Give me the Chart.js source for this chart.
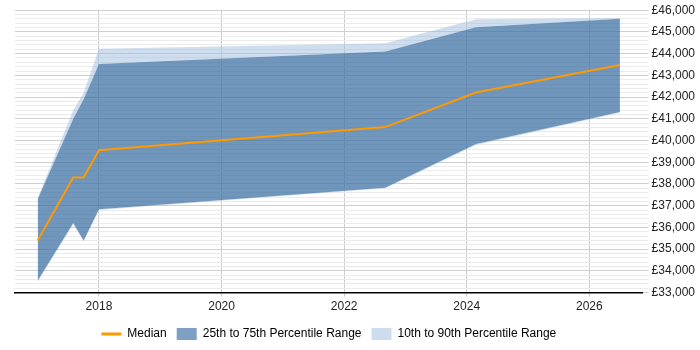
<!DOCTYPE html>
<html>
<head>
<meta charset="utf-8">
<script src="https://cdn.jsdelivr.net/npm/chart.js@4/dist/chart.umd.min.js"></script>
<style>
  html, body { margin: 0; padding: 0; background: #fff; }
  #wrap { width: 700px; height: 350px; }
</style>
</head>
<body>
<div id="wrap"><canvas id="myChart"></canvas></div>
<script>
// DATA
const years  = [2017.0, 2017.58, 2017.75, 2018.0, 2022.67, 2024.15, 2026.5];
const median = [35400, 38300, 38300, 39550, 40620, 42210, 43480];
const p10    = [33500, 36150, 35350, 36800, 37800, 39800, 41280];
const p25    = [33540, 36200, 35400, 36840, 37830, 39840, 41310];
const p75    = [37300, 41000, 41900, 43520, 44100, 45220, 45610];
const p90    = [37350, 41400, 42200, 44220, 44480, 45580, 45640];
const xTicks = [2018, 2020, 2022, 2024, 2026];

const pts = arr => years.map((x, i) => ({ x: x, y: arr[i] }));

const DARK = "rgba(65, 115, 165, 0.75)";
const LIGHT = "rgba(160, 190, 222, 0.5)";
const ORANGE = "rgb(255, 153, 0)";

// centre the legend under the plot area, not the whole canvas
const legendUnderPlot = {
    id: "legendUnderPlot",
    afterLayout(chart) {
        const l = chart.legend;
        l.left = chart.chartArea.left;
        l.right = chart.chartArea.right;
        l.width = l.right - l.left;
        l.top += 1;
        l.bottom += 1;
    },
};

document.addEventListener("DOMContentLoaded", function () {
    const ctx = document.getElementById("myChart").getContext("2d");
    new Chart(ctx, {
        type: "line",
        data: {
            datasets: [
                {
                    label: "Median",
                    data: pts(median),
                    borderColor: ORANGE,
                    borderWidth: 2,
                    pointRadius: 0,
                    fill: false,
                },
                {
                    label: "p25",
                    data: pts(p25),
                    borderWidth: 0,
                    pointRadius: 0,
                    fill: false,
                },
                {
                    label: "25th to 75th Percentile Range",
                    data: pts(p75),
                    borderWidth: 0,
                    pointRadius: 0,
                    backgroundColor: DARK,
                    fill: 1, // FILL DOWN TO P25
                },
                {
                    label: "10th to 90th Percentile Range",
                    data: pts(p90),
                    borderWidth: 0,
                    pointRadius: 0,
                    backgroundColor: LIGHT,
                    fill: 2, // FILL DOWN TO P75
                },
                {
                    label: "p10",
                    data: pts(p10),
                    borderWidth: 0,
                    pointRadius: 0,
                    backgroundColor: LIGHT,
                    fill: 1,
                },
            ],
        },
        plugins: [legendUnderPlot],
        options: {
            responsive: true,
            maintainAspectRatio: false,
            animation: false,
            layout: { padding: { left: 15, right: 2, top: 3, bottom: 1 } },
            plugins: {
                tooltip: { enabled: false },
                legend: {
                    position: "bottom",
                    labels: {
                        usePointStyle: true,
                        pointStyleWidth: 20,
                        boxHeight: 12,
                        padding: 10,
                        color: "#222",
                        font: { family: "Liberation Sans, Arial", size: 12 },
                        generateLabels: function () {
                            return [
                                { text: "Median", pointStyle: "line", strokeStyle: ORANGE, fillStyle: ORANGE, lineWidth: 3, hidden: false },
                                { text: "25th to 75th Percentile Range", pointStyle: "rect", fillStyle: "rgb(125, 160, 196)", strokeStyle: "rgb(125, 160, 196)", lineWidth: 0, hidden: false },
                                { text: "10th to 90th Percentile Range", pointStyle: "rect", fillStyle: "rgb(206, 221, 237)", strokeStyle: "rgb(206, 221, 237)", lineWidth: 0, hidden: false },
                            ];
                        },
                    },
                },
            },
            scales: {
                x: {
                    type: "linear",
                    min: 2016.63,
                    max: 2026.87,
                    afterBuildTicks: function (scale) {
                        scale.ticks = xTicks.map(v => ({ value: v }));
                    },
                    ticks: {
                        color: "#222",
                        font: { family: "Liberation Sans, Arial", size: 12 },
                        maxRotation: 0,
                        callback: v => String(v),
                    },
                    grid: { color: "#cccccc", tickLength: 4 },
                    border: { color: "#000", width: 1.5 },
                },
                y: {
                    position: "right",
                    min: 33000,
                    max: 46000,
                    ticks: {
                        stepSize: 200,
                        autoSkip: false,
                        color: "#222",
                        font: { family: "Liberation Sans, Arial", size: 12 },
                        callback: v => (v % 1000 === 0 ? "£" + v.toLocaleString("en-GB") : ""),
                    },
                    grid: {
                        color: c => (c.tick && c.tick.value % 1000 === 0 ? "#d0d0d0" : "#ebebeb"),
                        tickLength: 6,
                    },
                    border: { display: false },
                },
            },
        },
    });
});
</script>
</body>
</html>
